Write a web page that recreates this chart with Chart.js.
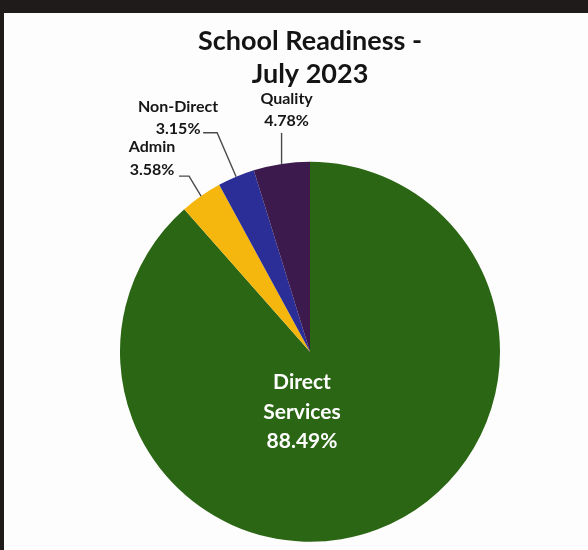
<!DOCTYPE html>
<html>
<head>
<meta charset="utf-8">
<title>School Readiness - July 2023</title>
<script src="https://cdn.jsdelivr.net/npm/chart.js@4.4.0/dist/chart.umd.min.js"></script>
<style>
  html, body { margin: 0; padding: 0; background: #fff; overflow: hidden; }
  #paper { position: relative; width: 588px; height: 550px; background: #fdfdfd; overflow: hidden; }
  #topband { position: absolute; left: 0; top: 0; width: 588px; height: 13px; background: #1f1b1b; }
  #leftband { position: absolute; left: 0; top: 0; width: 4px; height: 550px; background: #1f1b1b; }
  canvas { position: absolute; left: 0; top: 0; }
</style>
</head>
<body>
<div id="paper">
  <div id="topband"></div>
  <div id="leftband"></div>
  <canvas id="chart" width="588" height="550"></canvas>
</div>
<script>
// data
const categories = ["Direct Services", "Admin", "Non-Direct", "Quality"];
const shares = [88.49, 3.58, 3.15, 4.78];
const sliceColors = ["#2b6614", "#f5b70d", "#2a2e96", "#3d1a4e"];

// where each label sits, relative to the slice (layout only)
const labelPlaces = [
  { inside: true, dx: -8, dy: 60 },
  { text: [-49, -38], elbow: [-12, -20], end: [-22, -20] },
  { text: [-58, -59], elbow: [-19, -44], end: [-33, -44] },
  { text: [5, -54], elbow: [0, -31], end: [0, -31] },
];

const sliceLabels = {
  id: "sliceLabels",
  afterDatasetsDraw(chart) {
    const ctx = chart.ctx;
    const arcs = chart.getDatasetMeta(0).data;
    ctx.save();
    ctx.textAlign = "center";
    ctx.textBaseline = "middle";
    arcs.forEach((arc, i) => {
      const p = arc.getProps(["x", "y", "startAngle", "endAngle", "outerRadius"], true);
      const place = labelPlaces[i];
      const pct = shares[i].toFixed(2) + "%";
      if (place.inside) {
        const lines = categories[i].split(" ").concat([pct]);
        ctx.fillStyle = "#ffffff";
        ctx.font = "bold 21px Lato";
        const lh = 29.5;
        const cy = p.y + place.dy - (lines.length - 1) * lh / 2;
        lines.forEach((t, k) => ctx.fillText(t, p.x + place.dx, cy + k * lh));
        return;
      }
      const mid = (p.startAngle + p.endAngle) / 2;
      const ax = p.x + Math.cos(mid) * p.outerRadius;
      const ay = p.y + Math.sin(mid) * p.outerRadius;
      ctx.strokeStyle = "#4a4a4a";
      ctx.lineWidth = 1.4;
      ctx.beginPath();
      ctx.moveTo(ax, ay);
      ctx.lineTo(ax + place.elbow[0], ay + place.elbow[1]);
      ctx.lineTo(ax + place.end[0], ay + place.end[1]);
      ctx.stroke();
      ctx.fillStyle = "#161616";
      ctx.font = "bold 16px Lato";
      const lh = 22.5;
      const tx = ax + place.text[0];
      const ty = ay + place.text[1];
      ctx.fillText(categories[i], tx, ty - lh / 2);
      ctx.fillText(pct, tx, ty + lh / 2);
    });
    ctx.restore();
  }
};

new Chart(document.getElementById("chart"), {
  type: "pie",
  data: {
    labels: categories,
    datasets: [{
      data: shares,
      backgroundColor: sliceColors,
      borderWidth: 0,
    }],
  },
  options: {
    responsive: false,
    animation: false,
    layout: { padding: { left: 120, right: 88, top: 0, bottom: 8 } },
    plugins: {
      legend: { display: false },
      tooltip: { enabled: false },
      title: {
        display: true,
        text: ["School Readiness -", "July 2023"],
        color: "#141414",
        font: { family: "Lato", size: 27, weight: "bold", lineHeight: 1.25 },
        padding: { top: 24, bottom: 70 },
      },
    },
  },
  plugins: [sliceLabels],
});
</script>
</body>
</html>
